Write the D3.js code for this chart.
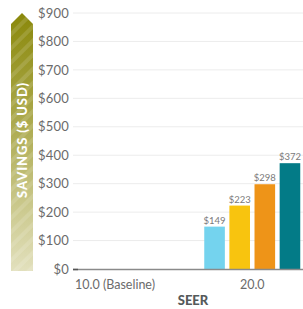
<!DOCTYPE html>
<html>
<head>
<meta charset="utf-8">
<script src="https://cdn.jsdelivr.net/npm/d3@7"></script>
<style>
	body { margin: 0; background: #fff; }
	svg { display: block; font-family: Lato, "DejaVu Sans", sans-serif; }
</style>
</head>
<body>
<svg id="chart" width="303" height="309"></svg>
<script>
	// data
	var categories = ["10.0 (Baseline)", "20.0"];
	var seriesKeys = ["a", "b", "c", "d"];
	var baselineValues = [0, 0, 0, 0];
	var seerValues = [149, 223, 298, 372];
	var yTicks = [0, 100, 200, 300, 400, 500, 600, 700, 800, 900];
	var barColors = ["#74d3ee", "#f8c40f", "#ee9418", "#037b87"];

	var svg = d3.select("#chart");

	var y = d3.scaleLinear().domain([0, 900]).range([269, 13]);

	var x0 = d3.scaleBand()
			.domain(categories)
			.range([46, 321])
			.padding(0);

	var x1 = d3.scaleBand()
			.domain(seriesKeys)
			.range([0, 96])
			.paddingInner(0.18);

	var z = d3.scaleOrdinal().domain(seriesKeys).range(barColors);

	var values = {};
	values[categories[0]] = baselineValues;
	values[categories[1]] = seerValues;

	// gridlines
	svg.append("g")
		.selectAll("line")
		.data(yTicks.filter(function(d){ return d > 0; }))
		.enter().append("line")
			.attr("x1", 73).attr("x2", 303)
			.attr("y1", function(d){ return y(d); })
			.attr("y2", function(d){ return y(d); })
			.attr("stroke", "#ececec")
			.attr("stroke-width", 1);

	// y axis labels
	var yAxis = svg.append("g")
		.attr("transform", "translate(73,0)")
		.call(d3.axisLeft(y).tickValues(yTicks).tickSize(0).tickPadding(4).tickFormat(function(d){ return "$" + d; }));
	yAxis.select(".domain").remove();
	yAxis.selectAll("text")
		.attr("fill", "#6b6b6b")
		.style("font-size", "13px")
		.style("letter-spacing", "0.2px")
		.style("font-family", "Lato, sans-serif");

	// bars
	var groups = svg.append("g")
		.selectAll("g")
		.data(categories)
		.enter().append("g")
			.attr("transform", function(d){ return "translate(" + (x0(d) + x0.bandwidth() / 2 - 48) + ",0)"; });

	groups.selectAll("rect")
		.data(function(c){ return values[c].map(function(v, i){ return {key: seriesKeys[i], value: v}; }); })
		.enter().append("rect")
			.attr("x", function(d){ return x1(d.key); })
			.attr("width", x1.bandwidth())
			.attr("y", function(d){ return y(d.value); })
			.attr("height", function(d){ return y(0) - y(d.value); })
			.attr("fill", function(d){ return z(d.key); });

	groups.selectAll("text")
		.data(function(c){ return values[c].map(function(v, i){ return {key: seriesKeys[i], value: v}; }); })
		.enter().filter(function(d){ return d.value > 0; }).append("text")
			.attr("x", function(d){ return x1(d.key) + x1.bandwidth() / 2; })
			.attr("y", function(d){ return y(d.value) - 3; })
			.attr("text-anchor", "middle")
			.attr("fill", "#7a7a7a")
			.style("font-size", "9.5px")
			.text(function(d){ return "$" + d.value; });

	// x axis
	svg.append("line")
		.attr("x1", 73).attr("x2", 303)
		.attr("y1", y(0) + 0.5).attr("y2", y(0) + 0.5)
		.attr("stroke", "#8a8a8a")
		.attr("stroke-width", 1.5);
	svg.append("line")
		.attr("x1", 73).attr("x2", 78)
		.attr("y1", y(0) + 0.5).attr("y2", y(0) + 0.5)
		.attr("stroke", "#555")
		.attr("stroke-width", 1.5);

	svg.append("g")
		.selectAll("text")
		.data(categories)
		.enter().append("text")
			.attr("x", function(d, i){ return i == 0 ? 115 : x0(d) + x0.bandwidth() / 2; })
			.attr("y", 289)
			.attr("text-anchor", "middle")
			.attr("fill", "#6b6b6b")
			.style("font-size", "12.5px")
			.text(function(d){ return d; });

	svg.append("text")
		.attr("x", 193).attr("y", 305)
		.attr("text-anchor", "middle")
		.attr("fill", "#555a5a")
		.style("font-size", "13px")
		.style("font-weight", "900")
		.text("SEER");

	// arrow with gradient + stripes
	var defs = svg.append("defs");
	var grad = defs.append("linearGradient")
		.attr("id", "arrowGrad")
		.attr("x1", 0).attr("y1", 0).attr("x2", 0).attr("y2", 1);
	grad.append("stop").attr("offset", "0%").attr("stop-color", "#8a880a");
	grad.append("stop").attr("offset", "45%").attr("stop-color", "#aeac52");
	grad.append("stop").attr("offset", "100%").attr("stop-color", "#e2e0bd");

	var pat = defs.append("pattern")
		.attr("id", "stripes")
		.attr("patternUnits", "userSpaceOnUse")
		.attr("width", 10).attr("height", 10)
		.attr("patternTransform", "rotate(45)");
	pat.append("rect").attr("width", 4).attr("height", 10).attr("fill", "#ffffff").attr("opacity", 0.13);

	var arrowPath = "M11,24 L22,13 L33,24 L33,271 L11,271 Z";
	svg.append("path").attr("d", arrowPath).attr("fill", "url(#arrowGrad)");
	svg.append("path").attr("d", arrowPath).attr("fill", "url(#stripes)");

	svg.append("text")
		.attr("transform", "translate(27,140) rotate(-90)")
		.attr("text-anchor", "middle")
		.attr("fill", "#ffffff")
		.style("font-size", "13px")
		.style("font-weight", "900")
		.style("letter-spacing", "0.9px")
		.text("SAVINGS ($ USD)");
</script>
</body>
</html>
